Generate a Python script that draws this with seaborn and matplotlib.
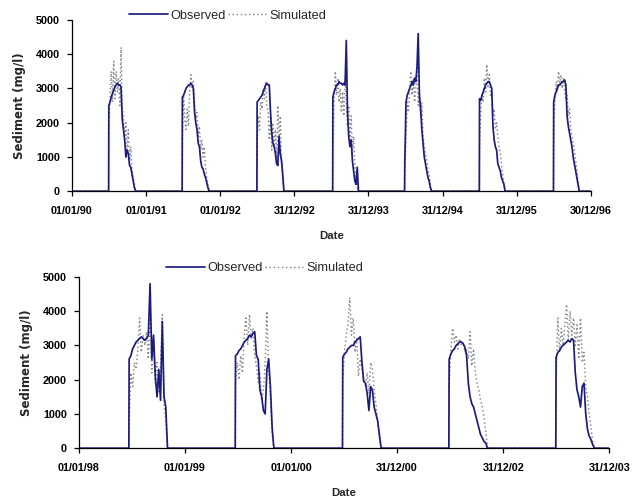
import numpy as np
import pandas as pd
import matplotlib
matplotlib.use("Agg")
import matplotlib.pyplot as plt
import seaborn as sns

# ---------------- data (mg/l), one value every STEP days within each season -------------
STEP = 6

top_ticks = ["01/01/90", "01/01/91", "01/01/92", "31/12/92", "31/12/93",
             "31/12/94", "31/12/95", "30/12/96"]
top_season_start = [182, 544, 912, 1285, 1639, 2007, 2372]   # day index on the axis
top_obs = [
    [2500, 2600, 2750, 2850, 2950, 3050, 3100, 3150, 3100, 3100, 3050, 2100, 1800, 1500, 1000, 1200, 1100, 750, 700, 500, 300, 100, 0],
    [2750, 2800, 2900, 3000, 3050, 3100, 3100, 3150, 3100, 3000, 2300, 2000, 1800, 1400, 1300, 900, 700, 650, 500, 400, 250, 100, 0],
    [2600, 2650, 2700, 2750, 2800, 2900, 3000, 3100, 3150, 3100, 3100, 2300, 1700, 1400, 1300, 1100, 800, 750, 1600, 1100, 900, 500, 0],
    [2750, 2900, 3000, 3100, 3100, 3200, 3150, 3150, 3100, 3150, 3100, 4400, 2300, 1600, 1300, 1500, 900, 600, 300, 200, 700, 0],
    [800, 2600, 2800, 2900, 3000, 3100, 3200, 3100, 3300, 3200, 3600, 4600, 2800, 2400, 1800, 1400, 1000, 800, 600, 400, 300, 100, 0],
    [2700, 2650, 2800, 2900, 3000, 3100, 3150, 3200, 3200, 3100, 3000, 1900, 1500, 1300, 1200, 800, 700, 600, 400, 300, 200, 0],
    [2600, 2800, 2900, 3000, 3100, 3100, 3150, 3200, 3200, 3250, 3100, 2200, 1900, 1700, 1500, 1300, 1000, 800, 600, 400, 200, 0],
]
top_sim = [
    [1600, 2900, 3500, 2600, 3800, 2700, 3500, 2900, 3300, 2500, 4200, 2400, 2200, 1500, 2000, 1200, 1800, 900, 1300, 600, 400, 200, 0],
    [1500, 2800, 2100, 1800, 2400, 1900, 2900, 3400, 3000, 3200, 2600, 2100, 2300, 1600, 1900, 1200, 1500, 1000, 1300, 700, 400, 200, 0],
    [1300, 2200, 1800, 2600, 2400, 3000, 2700, 3200, 2500, 2300, 1500, 2200, 1200, 2000, 1300, 1800, 900, 2500, 1400, 2200, 900, 300, 0],
    [1000, 2600, 3500, 2800, 3300, 2600, 3000, 2300, 2900, 2200, 3300, 2600, 1900, 2500, 1500, 2200, 1100, 1600, 800, 400, 100, 0],
    [600, 1500, 2600, 2300, 3000, 3500, 2800, 3300, 2600, 3000, 3600, 2500, 2900, 2200, 2600, 1600, 1300, 1100, 900, 600, 500, 200, 0],
    [1300, 2300, 2800, 2600, 3300, 2900, 3700, 3000, 3400, 2800, 2900, 2200, 2400, 1800, 2000, 1600, 1300, 1100, 800, 500, 200, 0],
    [1500, 2700, 3200, 2900, 3500, 3100, 3400, 3000, 3300, 2900, 2700, 2800, 2200, 2400, 1800, 1600, 1400, 1200, 900, 600, 300, 0],
]

bot_ticks = ["01/01/98", "01/01/99", "01/01/00", "31/12/00", "31/12/02", "31/12/03"]
bot_season_start = [173, 539, 908, 1274, 1642]
bot_obs = [
    [2600, 2700, 2900, 3000, 3100, 3150, 3200, 3250, 3200, 3150, 3200, 3300, 4800, 2600, 3300, 2100, 1500, 2300, 1400, 3700, 1500, 1200, 0],
    [2700, 2750, 2850, 2900, 3000, 3100, 3150, 3200, 3300, 3250, 3350, 3400, 2700, 2600, 1700, 1500, 1100, 1000, 2300, 2600, 1800, 600, 0],
    [2650, 2750, 2800, 2900, 2950, 3000, 3000, 3100, 3150, 3200, 3250, 2500, 1950, 1900, 1600, 1100, 1800, 1700, 1200, 1000, 800, 400, 0],
    [2600, 2750, 2850, 2900, 3000, 3050, 3100, 3100, 3050, 2950, 2700, 1900, 1500, 1300, 1200, 1000, 800, 600, 400, 300, 200, 150, 0],
    [2650, 2800, 2850, 2950, 3000, 3050, 3100, 3150, 3100, 3200, 3150, 2200, 1700, 1500, 1200, 1800, 1900, 1000, 550, 350, 250, 100, 0],
]
bot_sim = [
    [700, 2200, 1800, 2500, 2300, 2900, 3800, 2800, 3300, 3000, 3400, 2600, 4100, 2200, 3000, 1900, 2500, 1600, 2400, 3900, 1300, 800, 0],
    [1900, 2500, 2000, 2700, 2200, 3300, 3800, 3000, 3900, 3200, 3500, 2700, 2400, 1900, 2200, 1400, 1700, 2500, 4000, 2300, 1500, 400, 0],
    [2000, 2800, 3300, 3600, 4400, 3300, 3800, 2800, 3200, 2100, 2600, 2300, 2000, 1800, 2200, 1600, 2500, 2300, 1700, 1300, 800, 300, 0],
    [1800, 2900, 3500, 3100, 3300, 2900, 3200, 3000, 3100, 2800, 2900, 2600, 3400, 2400, 2900, 2200, 1900, 1700, 1400, 1200, 900, 500, 0],
    [2000, 3800, 2800, 3500, 3000, 3600, 4200, 3100, 4000, 3300, 3800, 3000, 3600, 2600, 3800, 2500, 2800, 1800, 1500, 1000, 600, 200, 0],
]

# ---------------- styling ----------------
sns.set_style("ticks")
plt.rcParams["font.family"] = ["Liberation Sans", "DejaVu Sans"]

OBS_COLOR = "#1c1c80"
SIM_COLOR = "#858585"


def build_frame(starts, obs_lists, sim_lists, span):
    rows = []
    for name, lists in (("Simulated", sim_lists), ("Observed", obs_lists)):
        xs, ys = [0], [0]
        for s, vals in zip(starts, lists):
            xs.append(s - 1)
            ys.append(0)
            for i, v in enumerate(vals):
                xs.append(s + STEP * i)
                ys.append(v)
        xs.append(span)
        ys.append(0)
        rows += [(name, x, y) for x, y in zip(xs, ys)]
    return pd.DataFrame(rows, columns=["series", "day", "value"])


def draw(ax, df, ticks, legend_xy):
    sns.lineplot(data=df, x="day", y="value", hue="series", style="series",
                 hue_order=["Simulated", "Observed"], style_order=["Simulated", "Observed"],
                 palette={"Observed": OBS_COLOR, "Simulated": SIM_COLOR},
                 dashes={"Observed": "", "Simulated": (1, 1.8)},
                 estimator=None, sort=False, legend=False, ax=ax, linewidth=1.0)
    sim_line, obs_line = ax.lines[0], ax.lines[1]
    obs_line.set_linewidth(1.25)
    sim_line.set_linewidth(1.05)
    span = 365 * (len(ticks) - 1)
    ax.set_xlim(0, span)
    ax.set_ylim(0, 5000)
    ax.set_xticks([365 * k for k in range(len(ticks))])
    ax.set_xticklabels(ticks)
    ax.set_yticks(range(0, 5001, 1000))
    for lab in ax.get_xticklabels() + ax.get_yticklabels():
        lab.set_fontweight("bold")
        lab.set_fontsize(7.8)
    ax.tick_params(axis="x", direction="out", length=3.5, width=0.9, colors="black", pad=7)
    ax.tick_params(axis="y", direction="out", length=3.5, width=0.9, colors="black", pad=5)
    ax.set_xlabel("Date", fontsize=8.2, fontweight="bold", labelpad=11)
    ax.set_ylabel("Sediment (mg/l)", fontsize=8.5, fontweight="bold", labelpad=7,
                  family=["DejaVu Sans"])
    sns.despine(ax=ax)
    for sp in ("left", "bottom"):
        ax.spines[sp].set_linewidth(0.9)
        ax.spines[sp].set_color("black")
    ax.legend([obs_line, sim_line], ["Observed", "Simulated"], ncol=2, frameon=False,
              loc="center", bbox_to_anchor=legend_xy, fontsize=9.2, handlelength=3.0,
              columnspacing=0.2, handletextpad=0.2, borderaxespad=0)


fig = plt.figure(figsize=(6.36, 4.98), dpi=100)
ax_top = fig.add_axes([0.113, 0.616, 0.816, 0.344])
ax_bot = fig.add_axes([0.124, 0.100, 0.834, 0.344])

df_top = build_frame(top_season_start, top_obs, top_sim, 365 * (len(top_ticks) - 1))
df_bot = build_frame(bot_season_start, bot_obs, bot_sim, 365 * (len(bot_ticks) - 1))

draw(ax_top, df_top, top_ticks, (0.30, 1.025))
draw(ax_bot, df_bot, bot_ticks, (0.35, 1.05))

fig.savefig("out.png", dpi=100)
